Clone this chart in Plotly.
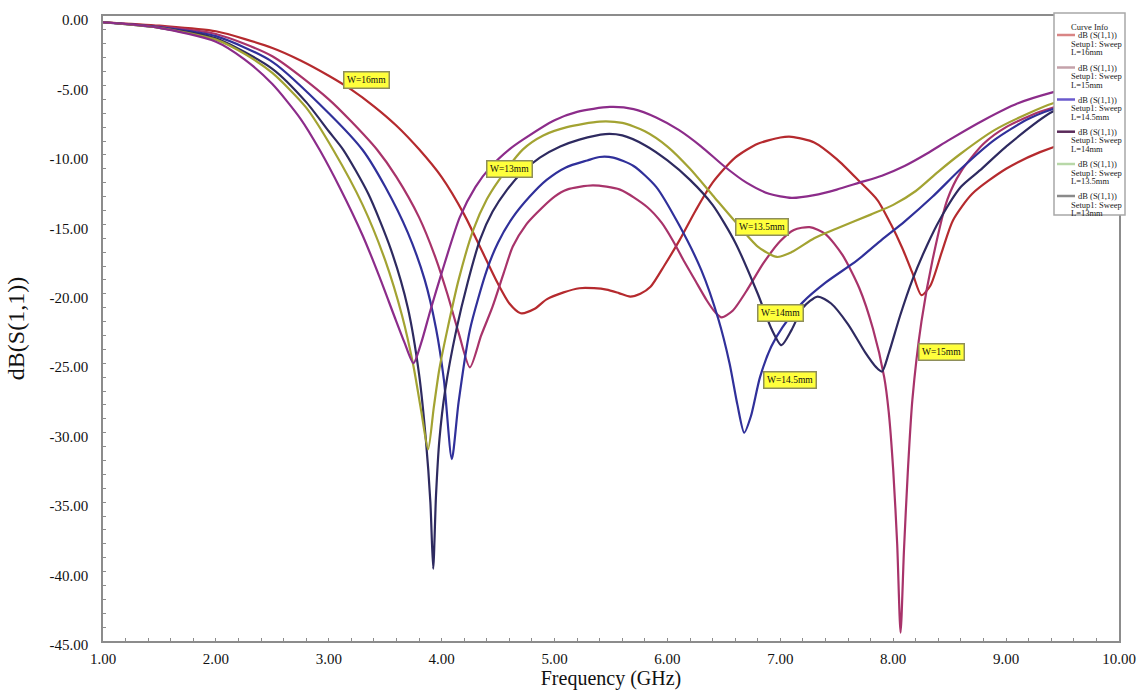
import plotly.graph_objects as go

# ---------------- data ----------------
freq_L16 = [1.0, 1.5, 2.0, 2.5, 2.75, 3.0, 3.2, 3.4, 3.6, 3.8, 4.0, 4.2, 4.35, 4.5, 4.6, 4.7, 4.82, 4.93,
            5.08, 5.22, 5.35, 5.46, 5.57, 5.67, 5.76, 5.85, 5.97, 6.11, 6.25, 6.4, 6.6, 6.8, 7.0, 7.1, 7.3, 7.5, 7.7,
            7.86, 7.98, 8.08, 8.17, 8.25, 8.33, 8.43, 8.53, 8.7, 9.0, 9.3, 9.6, 10.0]
s11_L16 = [-0.45, -0.7, -1.1, -2.3, -3.2, -4.3, -5.3, -6.5, -7.9, -9.6, -11.6, -14.3, -16.8, -19.3, -20.7, -21.4,
           -21.1, -20.4, -19.9, -19.6, -19.6, -19.7, -19.95, -20.2, -20.0, -19.5, -18.0, -16.1, -14.0, -12.0, -10.2,
           -9.2, -8.75, -8.7, -9.1, -10.3, -11.9, -13.25, -15.0, -16.7, -18.5, -20.1, -19.4, -17.0, -14.7, -12.8,
           -11.0, -9.8, -9.0, -8.4]

freq_L15 = [1.0, 1.5, 2.0, 2.5, 3.0, 3.2, 3.43, 3.6, 3.8, 3.95, 4.05, 4.15, 4.25, 4.35, 4.45, 4.55, 4.63, 4.75, 4.84,
            5.0, 5.11, 5.34, 5.58, 5.82, 5.95, 6.05, 6.15, 6.25, 6.35, 6.42, 6.48, 6.58, 6.7, 6.85, 7.0, 7.12, 7.26,
            7.4, 7.55, 7.7, 7.82, 7.92, 7.96, 8.0, 8.035, 8.065, 8.095, 8.13, 8.17, 8.25, 8.35, 8.48, 8.6, 8.8, 9.0,
            9.3, 9.6, 10.0]
s11_L15 = [-0.45, -0.75, -1.3, -2.9, -6.0, -7.6, -9.65, -11.6, -14.5, -17.5, -20.0, -22.8, -25.3, -23.0, -20.95, -18.5,
           -16.6, -15.0, -14.2, -13.0, -12.5, -12.2, -12.5, -13.75, -14.9, -16.2, -17.7, -19.1, -20.5, -21.3, -21.7,
           -21.2, -19.8, -17.8, -16.2, -15.4, -15.2, -15.7, -17.2, -19.6, -22.5, -26.0, -28.5, -32.7, -38.0, -44.4,
           -38.5, -32.7, -27.6, -22.0, -17.5, -13.2, -11.2, -9.2, -8.0, -6.9, -6.2, -5.7]

freq_L145 = [1.0, 1.5, 2.0, 2.5, 3.0, 3.3, 3.5, 3.7, 3.85, 3.95, 4.02, 4.09, 4.15, 4.25, 4.4, 4.5, 4.63, 4.78, 4.93,
             5.1, 5.29, 5.4, 5.52, 5.7, 5.9, 6.1, 6.3, 6.45, 6.55, 6.62, 6.68, 6.74, 6.82, 6.92, 7.02, 7.2, 7.4, 7.68,
             7.9, 8.1, 8.35, 8.6, 8.9, 9.2, 9.5, 10.0]
s11_L145 = [-0.45, -0.8, -1.45, -3.3, -7.0, -9.65, -12.3, -15.6, -19.0, -22.5, -26.2, -31.9, -27.8, -22.6, -18.3, -16.3,
            -14.5, -13.0, -11.8, -10.9, -10.4, -10.15, -10.2, -10.8, -12.3, -15.0, -18.3, -21.8, -25.0, -28.0, -30.0,
            -28.8, -26.0, -23.8, -22.4, -20.6, -19.2, -17.6, -16.1, -14.8, -13.0, -11.0, -8.9, -7.4, -6.5, -5.8]

freq_L14 = [1.0, 1.5, 2.0, 2.5, 2.8, 3.0, 3.13, 3.35, 3.55, 3.7, 3.8, 3.86, 3.9, 3.925, 3.95, 3.98, 4.03, 4.13, 4.23,
            4.34, 4.45, 4.58, 4.72, 4.87, 5.05, 5.22, 5.45, 5.6, 5.8, 6.0, 6.2, 6.4, 6.6, 6.8, 6.92, 7.01, 7.1, 7.2,
            7.33, 7.45, 7.6, 7.75, 7.85, 7.9, 7.96, 8.06, 8.17, 8.3, 8.41, 8.6, 8.77, 9.0, 9.41, 10.0]
s11_L14 = [-0.45, -0.85, -1.6, -3.8, -6.2, -8.3, -9.65, -12.8, -16.8, -21.0, -25.8, -30.5, -35.0, -39.8, -34.5, -30.5,
           -27.0, -22.6, -19.2, -16.1, -14.1, -12.5, -11.2, -10.2, -9.4, -8.9, -8.5, -8.6, -9.3, -10.4, -11.8, -13.6,
           -16.3, -20.0, -22.5, -23.7, -22.6, -21.0, -20.2, -20.7, -22.2, -24.2, -25.3, -25.6, -24.3, -21.6, -19.0,
           -16.5, -14.7, -12.3, -11.1, -9.4, -6.9, -5.3]

freq_L135 = [1.0, 1.5, 2.0, 2.25, 2.5, 2.8, 3.04, 3.3, 3.5, 3.65, 3.75, 3.82, 3.88, 3.93, 3.98, 4.05, 4.15, 4.28, 4.4,
             4.5, 4.72, 4.9, 5.11, 5.4, 5.6, 5.8, 6.0, 6.2, 6.4, 6.6, 6.8, 6.97, 7.1, 7.3, 7.5, 7.8, 8.0, 8.2, 8.4,
             8.6, 8.9, 9.2, 9.41, 10.0]
s11_L135 = [-0.45, -0.85, -1.7, -2.7, -4.1, -6.6, -9.65, -13.6, -17.6, -21.6, -25.2, -28.5, -31.2, -28.2, -25.4, -22.6,
            -19.0, -15.4, -13.2, -11.9, -9.6, -8.6, -8.0, -7.6, -7.7, -8.3, -9.4, -11.0, -12.9, -14.8, -16.6, -17.35,
            -17.0, -16.0, -15.3, -14.3, -13.6, -12.6, -11.2, -9.9, -8.2, -7.0, -6.3, -5.1]

freq_L13 = [1.0, 1.5, 2.0, 2.25, 2.5, 2.75, 2.92, 3.1, 3.3, 3.45, 3.58, 3.67, 3.75, 3.82, 3.9, 4.0, 4.16, 4.3, 4.43,
            4.6, 4.72, 5.0, 5.2, 5.49, 5.7, 5.9, 6.1, 6.3, 6.5, 6.7, 6.9, 7.1, 7.3, 7.5, 7.7, 7.9, 8.1, 8.3, 8.5,
            8.8, 9.1, 9.41, 10.0]
s11_L13 = [-0.45, -0.85, -1.85, -3.1, -4.9, -7.4, -9.65, -12.4, -15.8, -18.8, -21.6, -23.5, -25.0, -23.5, -21.2, -18.5,
           -14.5, -12.3, -10.9, -9.6, -8.9, -7.5, -6.9, -6.55, -6.7, -7.3, -8.2, -9.4, -10.8, -12.0, -12.8, -13.1,
           -12.9, -12.5, -12.0, -11.5, -10.8, -9.9, -8.9, -7.5, -6.3, -5.5, -4.4]

series_names = ["L=16mm", "L=15mm", "L=14.5mm", "L=14mm", "L=13.5mm", "L=13mm"]
series_x = [freq_L16, freq_L15, freq_L145, freq_L14, freq_L135, freq_L13]
series_y = [s11_L16, s11_L15, s11_L145, s11_L14, s11_L135, s11_L13]

x_tick_vals = [1, 2, 3, 4, 5, 6, 7, 8, 9, 10]
x_tick_text = ["1.00", "2.00", "3.00", "4.00", "5.00", "6.00", "7.00", "8.00", "9.00", "10.00"]
y_tick_vals = [0, -5, -10, -15, -20, -25, -30, -35, -40, -45]
y_tick_text = ["0.00", "-5.00", "-10.00", "-15.00", "-20.00", "-25.00", "-30.00", "-35.00", "-40.00", "-45.00"]

marker_texts = ["W=16mm", "W=13mm", "W=13.5mm", "W=14mm", "W=14.5mm", "W=15mm"]
marker_x = [3.33, 4.605, 6.84, 7.0, 7.09, 8.43]
marker_y = [-4.6, -11.0, -15.2, -21.4, -26.2, -24.2]

# ---------------- styles ----------------
line_colors = ["#B52A2E", "#A8336A", "#30309A", "#2E2A60", "#A3A332", "#8C2C8A"]
swatch_colors = ["#D98585", "#C4A2AA", "#6A5ACD", "#5A2A5A", "#B8D8A8", "#8A8A8A"]
SERIF = "Liberation Serif, Times New Roman, serif"

W, H = 1140, 691
PL, PR, PT, PB = 103, 1119, 16, 641


def px_x(px):
    return (px - PL) / (PR - PL)


def px_y(py):
    return (PB - py) / (PB - PT)


fig = go.Figure()
for name, xs, ys, col in zip(series_names, series_x, series_y, line_colors):
    fig.add_trace(go.Scatter(
        x=xs, y=ys, mode="lines", name="dB (S(1,1)) Setup1: Sweep " + name,
        line=dict(color=col, width=2.2, shape="spline", smoothing=0.7),
        showlegend=False, hoverinfo="x+y+name",
    ))

annotations = []
for txt, mx, my in zip(marker_texts, marker_x, marker_y):
    annotations.append(dict(
        x=mx, y=my, xref="x", yref="y", text=txt, showarrow=False,
        font=dict(family=SERIF, size=9.5, color="#111111"),
        bgcolor="#FFFF3C", bordercolor="#8E8E5A", borderwidth=1.5, borderpad=2.5,
    ))

shapes = []
# custom legend box ("Curve Info")
LX0, LX1, LY0, LY1 = 1054, 1125, 13, 215
shapes.append(dict(type="rect", xref="paper", yref="paper",
                   x0=px_x(LX0), x1=px_x(LX1), y0=px_y(LY1), y1=px_y(LY0),
                   fillcolor="white", line=dict(color="#A8A8A8", width=1.5), layer="above"))
annotations.append(dict(x=px_x(1069), y=px_y(26.5), xref="paper", yref="paper", text="Curve Info",
                        showarrow=False, xanchor="left", yanchor="middle",
                        font=dict(family=SERIF, size=8.5, color="#222222")))
group_y = [35, 67.5, 99.5, 131.7, 164, 196]
for name, gy, sc in zip(series_names, group_y, swatch_colors):
    shapes.append(dict(type="line", xref="paper", yref="paper",
                       x0=px_x(1057), x1=px_x(1075), y0=px_y(gy), y1=px_y(gy),
                       line=dict(color=sc, width=2.5), layer="above"))
    annotations.append(dict(x=px_x(1076), y=px_y(gy), xref="paper", yref="paper", text="dB (S(1,1))",
                            showarrow=False, xanchor="left", yanchor="middle",
                            font=dict(family=SERIF, size=8.5, color="#222222")))
    annotations.append(dict(x=px_x(1069), y=px_y(gy + 8.6), xref="paper", yref="paper", text="Setup1: Sweep",
                            showarrow=False, xanchor="left", yanchor="middle",
                            font=dict(family=SERIF, size=8.5, color="#222222")))
    annotations.append(dict(x=px_x(1069), y=px_y(gy + 17.2), xref="paper", yref="paper", text=name,
                            showarrow=False, xanchor="left", yanchor="middle",
                            font=dict(family=SERIF, size=8.5, color="#222222")))

axis_common = dict(
    showgrid=False, zeroline=False, showline=True, linecolor="#8C8C8C", linewidth=1.5, mirror=True,
    ticks="inside", ticklen=3, tickcolor="#8C8C8C", tickwidth=1, automargin=False,
    tickfont=dict(family=SERIF, size=15, color="#111111"),
)

fig.update_layout(
    width=W, height=H,
    margin=dict(l=PL, r=W - PR, t=PT, b=H - PB, autoexpand=False),
    paper_bgcolor="white", plot_bgcolor="white",
    showlegend=False,
    xaxis=dict(axis_common, range=[1, 10], tickvals=x_tick_vals, ticktext=x_tick_text,
               ticklabelstandoff=3,
               title=dict(text="Frequency (GHz)", font=dict(family=SERIF, size=20, color="#111111"), standoff=5),
               minor=dict(dtick=0.2, ticks="inside", ticklen=3, tickcolor="#8C8C8C")),
    yaxis=dict(axis_common, range=[-45, 0], tickvals=y_tick_vals, ticktext=y_tick_text,
               ticklabelstandoff=10, ticklabelshift=4,
               title=dict(text="dB(S(1,1))", font=dict(family=SERIF, size=24, color="#111111"), standoff=18),
               minor=dict(dtick=1, ticks="inside", ticklen=3, tickcolor="#8C8C8C")),
    annotations=annotations,
    shapes=shapes,
)

fig.write_html("out.html", config={"displayModeBar": False},
               post_script="document.body.style.margin='0';document.body.style.overflow='hidden';")
